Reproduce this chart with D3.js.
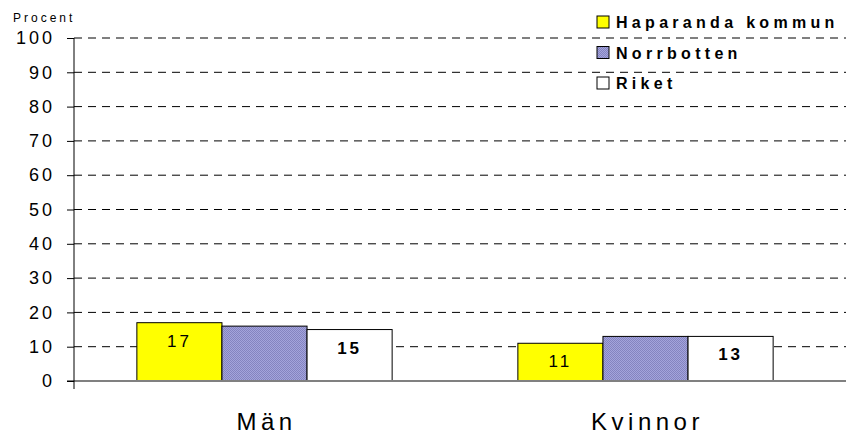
<!DOCTYPE html>
<html lang="sv">
<head>
<meta charset="UTF-8">
<title>Procent</title>
<script src="https://d3js.org/d3.v7.min.js"></script>
<style>
  body { margin: 0; background: #fff; }
  text { font-family: "Liberation Sans", Arial, sans-serif; }
</style>
</head>
<body>
<script>
const categories = ["Män", "Kvinnor"];
const seriesNames = ["Haparanda kommun", "Norrbotten", "Riket"];
const haparanda = [17, 11];
const norrbotten = [16, 13];
const riket = [15, 13];
const yTicks = [0, 10, 20, 30, 40, 50, 60, 70, 80, 90, 100];

const w = 862, h = 435;
const mLeft = 74, mRight = 836, mTop = 38, mBottom = 381;

const svg = d3.select("body").append("svg")
  .attr("width", w).attr("height", h);

const defs = svg.append("defs");
const pat = defs.append("pattern")
  .attr("id", "dots").attr("width", 2).attr("height", 2)
  .attr("patternUnits", "userSpaceOnUse");
pat.append("rect").attr("width", 2).attr("height", 2).attr("fill", "#a4a4dc");
pat.append("rect").attr("width", 1).attr("height", 1).attr("fill", "#8484c0");
pat.append("rect").attr("x", 1).attr("y", 1).attr("width", 1).attr("height", 1).attr("fill", "#8484c0");

const x0 = d3.scaleBand().domain(categories).range([mLeft, mRight]).paddingInner(0.33).paddingOuter(0.165);
const x1 = d3.scaleBand().domain(seriesNames).range([0, x0.bandwidth()]);
const y = d3.scaleLinear().domain([0, 100]).range([mBottom, mTop]);

const fills = ["#ffff00", "url(#dots)", "#ffffff"];
const data = [haparanda, norrbotten, riket];

// grid
svg.append("g").selectAll("line")
  .data(yTicks.filter(d => d > 0))
  .enter().append("line")
  .attr("x1", mLeft).attr("x2", 846)
  .attr("y1", d => y(d)).attr("y2", d => y(d))
  .attr("stroke", "#000").attr("stroke-width", 1)
  .attr("stroke-dasharray", "8,6");

// bars
categories.forEach((c, ci) => {
  seriesNames.forEach((s, si) => {
    const v = data[si][ci];
    svg.append("rect")
      .attr("x", x0(c) + x1(s))
      .attr("y", y(v))
      .attr("width", x1.bandwidth())
      .attr("height", mBottom - y(v))
      .attr("fill", fills[si])
      .attr("stroke", "#000").attr("stroke-width", 1);
    if (si !== 1) {
      svg.append("text")
        .attr("x", x0(c) + x1(s) + x1.bandwidth() / 2)
        .attr("y", y(v) + 24)
        .attr("text-anchor", "middle")
        .attr("font-size", 17)
        .attr("font-weight", si === 2 ? "bold" : "normal")
        .attr("letter-spacing", 3)
        .text(v);
    }
  });
});

// baseline
svg.append("line").attr("x1", 67).attr("x2", 846)
  .attr("y1", mBottom).attr("y2", mBottom)
  .attr("stroke", "#808080").attr("stroke-width", 2);

// y axis
const yAxis = d3.axisLeft(y).tickValues(yTicks).tickSize(7).tickPadding(12);
const ya = svg.append("g").attr("transform", "translate(" + mLeft + ",0)").call(yAxis);
ya.select(".domain").remove();
ya.selectAll("text").attr("font-size", 18).attr("letter-spacing", 3)
  .attr("font-family", "Liberation Sans, Arial, sans-serif").attr("fill", "#000");
ya.selectAll("line").attr("stroke", "#000");
svg.append("line").attr("x1", mLeft).attr("x2", mLeft)
  .attr("y1", mTop).attr("y2", mBottom + 8).attr("stroke", "#000");

svg.append("text").attr("x", 13).attr("y", 22)
  .attr("font-size", 12).attr("letter-spacing", 3).text("Procent");

// category labels
svg.selectAll(".cat").data(categories).enter().append("text")
  .attr("x", d => x0(d) + x0.bandwidth() / 2 + 2)
  .attr("y", 430)
  .attr("text-anchor", "middle")
  .attr("font-size", 24).attr("letter-spacing", 4.5)
  .text(d => d);

// legend
const lg = svg.append("g").attr("transform", "translate(597,0)");
seriesNames.forEach((s, i) => {
  const yy = 22 + i * 30.5;
  lg.append("rect").attr("x", 0).attr("y", yy - 6).attr("width", 12).attr("height", 12)
    .attr("fill", fills[i]).attr("stroke", "#000").attr("stroke-width", 1);
  lg.append("text").attr("x", 19).attr("y", yy + 6)
    .attr("font-size", 16).attr("font-weight", "bold").attr("letter-spacing", 4.3)
    .text(s);
});
</script>
</body>
</html>
